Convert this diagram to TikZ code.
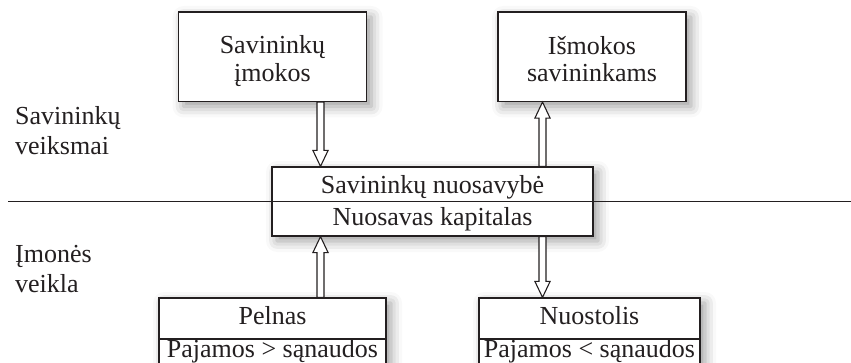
\documentclass[tikz,border=0pt]{standalone}
\usepackage{fontspec}
\setmainfont{Liberation Serif}
\usetikzlibrary{calc,shadows.blur}
\definecolor{ink}{RGB}{35,31,32}

% hollow block arrow from #1 to #2 (tip at #2)
\newcommand\hollowarrow[2]{%
  \coordinate (hb) at ($(#2)!16pt!(#1)$);
  \draw[arrowbody]
    ($(#1)!3.5pt!90:(#2)$) -- ($(hb)!3.5pt!90:(#2)$) -- ($(hb)!7.6pt!90:(#2)$)
    -- (#2)
    -- ($(hb)!7.6pt!-90:(#2)$) -- ($(hb)!3.5pt!-90:(#2)$) -- ($(#1)!3.5pt!-90:(#2)$)
    -- cycle;
}

\begin{document}
\begin{tikzpicture}[x=1pt,y=-1pt,
  font=\fontsize{26}{30}\selectfont,
  box/.style={draw=ink, fill=white, line width=1.2pt, inner sep=0pt,
    blur shadow={shadow xshift=5pt, shadow yshift=-5pt,
      shadow blur radius=11pt, shadow opacity=40}},
  lbl/.style={anchor=base, inner sep=0pt, text=ink},
  side/.style={anchor=base west, inner sep=0pt, text=ink},
  arrowbody/.style={draw=ink, fill=white, line width=1.1pt, line join=miter},
  rule/.style={draw=ink, line width=1pt}]

\useasboundingbox (0,0) rectangle (851,363);
\clip (0,0) rectangle (851,363);

% boxes
\node[box, minimum width=188pt, minimum height=89.5pt] (own)  at (272.5,56.75) {};
\node[box, minimum width=188pt, minimum height=89.5pt] (pay)  at (592,56.75) {};
\node[box, minimum width=321pt, minimum height=69pt]   (eq)   at (432.5,201.5) {};
\node[box, minimum width=227pt, minimum height=82pt]   (gain) at (272.5,339) {};
\node[box, minimum width=221pt, minimum height=82pt]   (loss) at (589.5,339) {};

% row dividers of the lower boxes
\draw[rule, line width=1.2pt] (gain.west) -- (gain.east);
\draw[rule, line width=1.2pt] (loss.west) -- (loss.east);

% separator between the two levels (also divides the equity box)
\coordinate (sepL) at (8,201.5);
\coordinate (sepR) at (851,201.5);
\draw[rule] (sepL) -- (sepR);

% arrow columns
\coordinate (colL) at (320.5,0);
\coordinate (colR) at (542.5,0);
\coordinate (a1s) at (own.south -| colL);  \coordinate (a1e) at (eq.north -| colL);
\coordinate (a2s) at (eq.north -| colR);   \coordinate (a2e) at (pay.south -| colR);
\coordinate (a3s) at (gain.north -| colL); \coordinate (a3e) at (eq.south -| colL);
\coordinate (a4s) at (eq.south -| colR);   \coordinate (a4e) at (loss.north -| colR);
\hollowarrow{a1s}{a1e}
\hollowarrow{a2s}{a2e}
\hollowarrow{a3s}{a3e}
\hollowarrow{a4s}{a4e}

% box texts
\node[lbl] (ownA)  at (272.5,53.5) {Savininkų};
\node[lbl] (ownB)  at (272.5,82)   {įmokos};
\node[lbl] (payA)  at (592,54.5)   {Išmokos};
\node[lbl] (payB)  at (592,82)     {savininkams};
\node[lbl] (eqA)   at (432.5,193.5) {Savininkų nuosavybė};
\node[lbl] (eqB)   at (432.5,226)   {Nuosavas kapitalas};
\node[lbl] (gainA) at (272.5,324)  {Pelnas};
\node[lbl] (gainB) at (272.5,357.5) {Pajamos > sąnaudos};
\node[lbl] (lossA) at (589.5,324)  {Nuostolis};
\node[lbl] (lossB) at (589.5,357.5) {Pajamos < sąnaudos};

% level labels
\node[side] (s1) at (15,125) {Savininkų};
\node[side] (s2) at (15,155) {veiksmai};
\node[side] (s3) at (15,262) {Įmonės};
\node[side] (s4) at (15,292) {veikla};
\end{tikzpicture}
\end{document}
